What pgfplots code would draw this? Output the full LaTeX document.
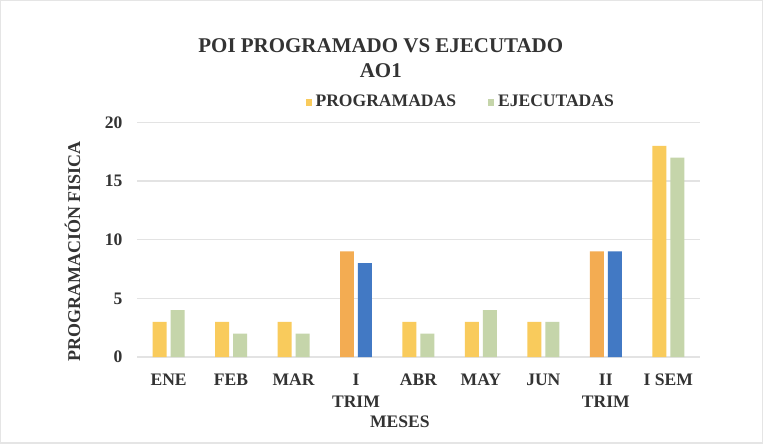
\documentclass[border=0pt]{standalone}
\usepackage{pgfplots}
\pgfplotsset{compat=1.18}
\usepackage{fontspec}
\setmainfont{Liberation Serif}
\definecolor{cprog}{RGB}{249,203,92}
\definecolor{cejec}{RGB}{197,213,170}
\definecolor{corange}{RGB}{243,172,82}
\definecolor{cblue}{RGB}{66,121,196}
\definecolor{ctext}{RGB}{51,51,51}
\begin{document}
\begin{tikzpicture}
\draw[gray!20, line width=0.6pt, fill=white] (-68.5pt,-43pt) rectangle (313pt,178.5pt);
\begin{axis}[
  at={(0pt,0pt)}, anchor=south west,
  scale only axis, width=281.5pt, height=117.5pt,
  xmin=-0.5, xmax=8.5, ymin=0, ymax=20,
  ytick={0,5,10,15,20},
  xtick={0,...,8},
  xticklabels={ENE,FEB,MAR,{I\\TRIM},ABR,MAY,JUN,{II\\TRIM},I SEM},
  ybar, bar width=7pt,
  axis line style={draw=none},
  major tick length=0pt,
  ymajorgrids, grid style={gray!22, line width=0.6pt},
  tick label style={font=\fontsize{8.8}{11}\selectfont\bfseries, text=ctext},
  xticklabel style={align=center, yshift=-5pt},
  yticklabel style={xshift=-4pt},
  /pgf/number format/assume math mode=true,
  xlabel={MESES},
  xlabel style={font=\fontsize{8.8}{11}\selectfont\bfseries, text=ctext, at={(rel axis cs:0.467,0)}, anchor=north, yshift=-26pt},
  ylabel={PROGRAMACIÓN FISICA},
  ylabel style={font=\fontsize{9}{11}\selectfont\bfseries, text=ctext, at={(rel axis cs:-0.1155,0.45)}, anchor=center, rotate=0},
  title={POI PROGRAMADO VS EJECUTADO\\AO1},
  title style={font=\fontsize{10.5}{12.5}\selectfont\bfseries, text=ctext, align=center, at={(rel axis cs:0.433,1)}, anchor=center, yshift=26pt},
  legend style={at={(rel axis cs:0.577,1)}, anchor=center, yshift=10pt, draw=none, fill=none,
    font=\fontsize{8.8}{11}\selectfont\bfseries, text=ctext,
    /tikz/every even column/.append style={column sep=14pt}},
  legend columns=2,
  legend image code/.code={\fill[#1] (0pt,-1.6pt) rectangle (3pt,1.6pt);},
]
\addplot[fill=cprog, draw=none, bar shift=-4.5pt] coordinates {(0,3) (1,3) (2,3) (4,3) (5,3) (6,3) (8,18)};
\addlegendentry{PROGRAMADAS}
\addplot[fill=cejec, draw=none, bar shift=4.5pt] coordinates {(0,4) (1,2) (2,2) (4,2) (5,4) (6,3) (8,17)};
\addlegendentry{EJECUTADAS}
\addplot[fill=corange, draw=none, bar shift=-4.5pt, forget plot] coordinates {(3,9) (7,9)};
\addplot[fill=cblue, draw=none, bar shift=4.5pt, forget plot] coordinates {(3,8) (7,9)};
\end{axis}
\end{tikzpicture}
\end{document}
